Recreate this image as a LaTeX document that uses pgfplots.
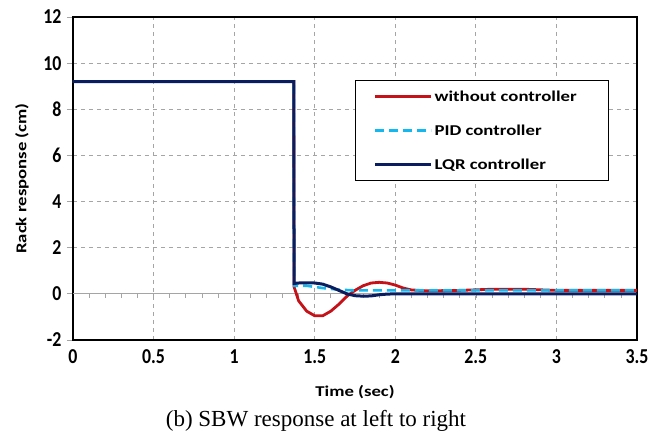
\documentclass[border=0pt]{standalone}
\usepackage{fontspec}
\setmainfont{Liberation Serif}
\newfontfamily\cf{Carlito}[FakeStretch=1.25]
\newfontfamily\cft{Carlito}[FakeStretch=1.05]
\usepackage{pgfplots}
\pgfplotsset{compat=1.18}
\definecolor{redc}{RGB}{196,18,24}
\definecolor{pidc}{RGB}{20,184,240}
\definecolor{lqrc}{RGB}{10,30,95}
\definecolor{gridc}{RGB}{165,165,165}
\newcommand{\tl}[1]{\scalebox{1}[1.25]{#1}}

\begin{document}
\begin{tikzpicture}
\begin{axis}[
    scale only axis,
    width=564pt, height=323pt,
    xmin=0, xmax=3.5, ymin=-2, ymax=12,
    xtick={0,0.5,1,1.5,2,2.5,3,3.5},
    xticklabels={\tl{0},\tl{0.5},\tl{1},\tl{1.5},\tl{2},\tl{2.5},\tl{3},\tl{3.5}},
    ytick={-2,0,2,4,6,8,10,12},
    yticklabels={\tl{-2},\tl{0},\tl{2},\tl{4},\tl{6},\tl{8},\tl{10},\tl{12}},
    ticklabel style={font=\cft\bfseries\fontsize{17}{17}\selectfont},
    xticklabel style={anchor=center, yshift=-11pt},
    yticklabel style={xshift=-2pt},
    xtick style={draw=none},
    ytick style={draw=gridc, line width=0.8pt},
    tick align=outside, major tick length=6pt,
    ytick pos=left, xtick pos=bottom,
    grid=major,
    major grid style={gridc, dash pattern=on 4pt off 4pt, line width=0.8pt},
    axis line style={black, line width=1.4pt},
    xlabel={Time (sec)},
    ylabel={Rack response (cm)},
    every axis x label/.style={at={(rel axis cs:0.5,0)}, yshift=-52pt, anchor=center,
        font=\cf\bfseries\fontsize{15}{15}\selectfont},
    every axis y label/.style={at={(rel axis cs:0,0.5)}, xshift=-51pt, rotate=90, anchor=center,
        font=\cf\bfseries\fontsize{15}{15}\selectfont},
    legend style={at={(rel axis cs:0.5,0.805)}, anchor=north west, draw=black,
        line width=1.2pt, inner xsep=18pt, inner ysep=8pt, row sep=18pt,
        font=\cf\bfseries\fontsize{15}{15}\selectfont, cells={anchor=west},
        nodes={inner sep=2pt}},
    legend image code/.code={\path (0pt,0pt) -- (56pt,0pt); \draw[#1] (14pt,0pt) -- (56pt,0pt);},
]
\coordinate (O) at (rel axis cs:0,0);
% horizontal zero line with small ticks
\draw[gridc, line width=0.9pt] (axis cs:0,0) -- (axis cs:3.5,0);
\pgfplotsinvokeforeach{0.1,0.2,0.3,0.4,0.5,0.6,0.7,0.8,0.9,1.0,1.1,1.2,1.3,1.4,1.5,1.6,1.7,1.8,1.9,2.0,2.1,2.2,2.3,2.4,2.5,2.6,2.7,2.8,2.9,3.0,3.1,3.2,3.3,3.4}{
  \draw[gridc, line width=0.7pt] (axis cs:#1,0) -- ++(0pt,-4pt);
}

\addplot[color=redc, line width=2.8pt] coordinates {
    (0,9.2) (1.37,9.2) (1.372,0.3) (1.40,-0.3) (1.45,-0.75) (1.50,-0.95)
    (1.55,-0.95) (1.60,-0.75) (1.65,-0.45) (1.70,-0.1) (1.75,0.15)
    (1.80,0.35) (1.85,0.47) (1.90,0.5) (1.95,0.47) (2.00,0.38) (2.05,0.25)
    (2.10,0.17) (2.20,0.13) (2.40,0.15) (2.60,0.2) (2.80,0.2) (3.00,0.15)
    (3.50,0.15)
};
\addplot[color=pidc, line width=2.6pt, dash pattern=on 9pt off 5pt] coordinates {
    (0,9.2) (1.37,9.2) (1.372,0.35) (1.45,0.35) (1.55,0.25) (1.65,0.18)
    (1.75,0.15) (3.50,0.15)
};
\addplot[color=lqrc, line width=3pt] coordinates {
    (0,9.2) (1.37,9.2) (1.372,0.45) (1.40,0.47) (1.45,0.48) (1.50,0.47)
    (1.55,0.42) (1.60,0.30) (1.65,0.15) (1.70,0.0) (1.75,-0.08) (1.80,-0.1)
    (1.85,-0.09) (1.90,-0.04) (1.95,-0.01) (2.00,0) (3.50,0)
};
\legend{without controller\rule{12pt}{0pt},PID controller,LQR controller}
\end{axis}
\node[font=\fontsize{23}{23}\selectfont] at ([shift={(243pt,-81pt)}]O) {(b) SBW response at left to right};
\pgfresetboundingbox
\path (O) ++(-73pt,-95pt) rectangle ++(665pt,435pt);
\end{tikzpicture}
\end{document}
